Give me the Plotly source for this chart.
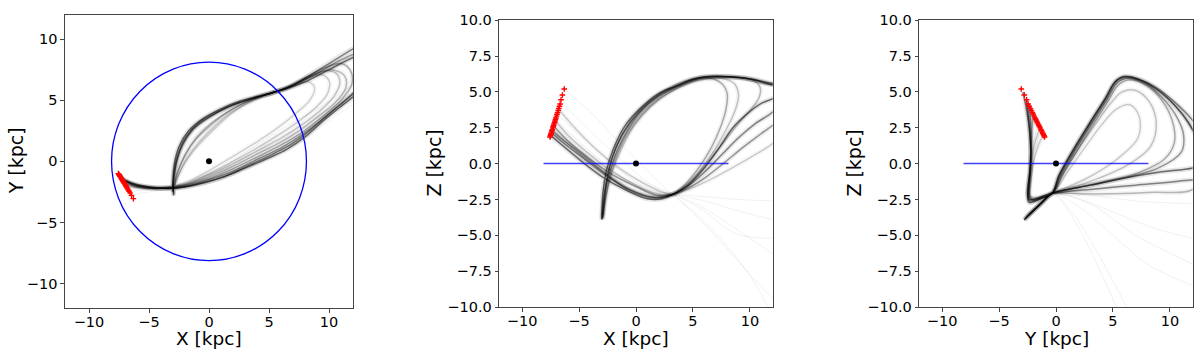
import plotly.graph_objects as go

# stream stars (red crosses), kpc
STAR_X = [-7.55, -7.52, -7.48, -7.45, -7.41, -7.38, -7.34, -7.30, -7.27, -7.23, -7.19, -7.15,
          -7.11, -7.07, -7.03, -6.98, -6.93, -6.88, -6.83, -6.78, -6.72, -6.66, -6.58, -6.46, -6.30]
STAR_Y = [-1.00, -1.05, -1.11, -1.16, -1.22, -1.27, -1.33, -1.40, -1.45, -1.51, -1.58, -1.64,
          -1.71, -1.77, -1.84, -1.92, -2.00, -2.08, -2.17, -2.25, -2.35, -2.45, -2.58, -2.78, -3.05]
STAR_Z = [1.85, 1.94, 2.03, 2.12, 2.21, 2.30, 2.39, 2.49, 2.58, 2.67, 2.77, 2.87,
          2.97, 3.08, 3.18, 3.31, 3.44, 3.57, 3.71, 3.84, 4.00, 4.15, 4.45, 4.78, 5.20]

R_SUN = 8.12
DISK_X = [-8.12, 8.12]
DISK_Z = [0.0, 0.0]

# ---- X-Y projection (darkest orbit first) ----
XY_CORE_X = [
    [-7.4, -6.5, -5.0, -3.0, -1.0, 1.0, 3.0, 5.0, 6.5, 8.0, 9.5, 11.0, 12.3, 13.5, 14.3, 14.0, 12.0, 10.0, 8.0, 6.5, 5.4, 4.0, 2.5, 1.0, -0.5, -1.7, -2.5, -2.9, -3.0, -2.95],
    [-7.35, -6.2, -4.5, -2.5, -0.5, 1.5, 3.5, 5.5, 7.0, 8.5, 10.0, 11.5, 12.8, 14.0, 14.8, 14.0, 12.0, 10.0, 8.0, 6.5, 5.4, 4.0, 2.2, 0.6, -0.8, -1.9, -2.6, -2.95, -3.0],
    [-7.3, -6.0, -4.0, -2.0, 0.0, 2.0, 4.0, 6.0, 7.5, 9.0, 10.5, 12.0, 13.3, 13.8, 13.0, 11.0, 9.0, 7.0, 5.4, 3.5, 1.5, 0.0, -1.3, -2.2, -2.7, -2.9, -3.0, -2.9],
    [-7.3, -6.0, -4.0, -2.0, 0.0, 2.0, 4.0, 6.0, 7.8, 9.5, 11.0, 11.9, 11.8, 11.0, 9.5, 7.8, 6.3, 5.4, 3.5, 1.5, 0.0, -1.3, -2.2, -2.7, -2.95, -3.0],
    [-7.2, -6.0, -4.0, -2.0, 0.0, 2.0, 4.0, 6.0, 7.5, 9.0, 10.5, 11.4, 11.3, 10.2, 8.6, 7.0, 5.4, 4.0, 2.0, 0.3, -1.0, -1.9, -2.5, -2.9, -3.0],
    [-7.15, -6.0, -4.0, -2.0, 0.0, 2.0, 4.0, 6.0, 7.6, 9.2, 10.4, 10.9, 10.6, 9.6, 8.2, 6.7, 5.4, 3.8, 1.8, 0.2, -1.1, -2.0, -2.6, -2.95],
    [-7.1, -6.0, -4.0, -2.0, 0.0, 2.0, 4.0, 6.0, 7.5, 9.0, 9.9, 10.0, 9.3, 8.0, 6.5, 5.4, 4.0, 2.0, 0.5, -0.8, -1.8, -2.5, -2.9, -2.95],
    [-7.0, -6.0, -4.0, -2.0, 0.0, 2.0, 4.0, 5.8, 7.2, 8.4, 8.8, 8.3, 7.0, 5.4, 3.8, 2.0, 0.5, -1.0, -2.0, -2.6, -2.95],
]
XY_CORE_Y = [
    [-1.3, -1.75, -2.1, -2.2, -1.9, -1.35, -0.55, 0.3, 1.0, 2.0, 3.3, 4.5, 5.5, 6.6, 8.0, 9.3, 8.5, 7.5, 6.5, 5.95, 5.65, 5.3, 4.9, 4.3, 3.5, 2.5, 1.2, -0.3, -1.8, -2.8],
    [-1.4, -1.9, -2.15, -2.15, -1.75, -1.15, -0.25, 0.7, 1.5, 2.6, 3.9, 5.1, 6.2, 7.3, 9.0, 10.3, 9.2, 8.0, 6.8, 6.05, 5.65, 5.25, 4.7, 4.0, 3.2, 2.0, 0.5, -1.2, -2.5],
    [-1.5, -2.0, -2.2, -2.05, -1.5, -0.8, 0.15, 1.1, 2.0, 3.1, 4.3, 5.6, 7.0, 8.3, 9.0, 8.3, 7.2, 6.2, 5.65, 5.1, 4.4, 3.6, 2.7, 1.4, 0.0, -1.3, -2.2, -2.7],
    [-1.45, -2.0, -2.2, -2.0, -1.4, -0.6, 0.35, 1.35, 2.4, 3.7, 5.0, 6.3, 7.4, 8.0, 7.6, 6.7, 5.9, 5.65, 5.1, 4.4, 3.6, 2.6, 1.3, -0.1, -1.5, -2.4],
    [-1.6, -2.05, -2.2, -1.95, -1.25, -0.4, 0.6, 1.6, 2.5, 3.6, 4.8, 6.0, 7.0, 7.5, 7.0, 6.2, 5.65, 5.2, 4.3, 3.2, 2.0, 0.7, -0.6, -1.8, -2.4],
    [-1.7, -2.1, -2.2, -1.9, -1.1, -0.2, 0.85, 1.9, 2.9, 4.1, 5.3, 6.4, 7.2, 7.4, 6.9, 6.1, 5.65, 5.15, 4.2, 3.0, 1.8, 0.5, -0.8, -2.3],
    [-1.8, -2.1, -2.2, -1.85, -1.0, 0.0, 1.1, 2.3, 3.3, 4.5, 5.6, 6.6, 7.1, 6.7, 6.0, 5.65, 5.1, 4.1, 2.9, 1.6, 0.3, -1.0, -2.1, -2.6],
    [-2.0, -2.15, -2.2, -1.75, -0.75, 0.4, 1.6, 2.8, 3.9, 5.0, 6.0, 6.5, 6.2, 5.65, 5.1, 4.0, 2.7, 1.2, -0.1, -1.3, -2.3],
]
XY_FAINT_X = [
    [-6.5, -5.0, -3.0, -1.0, 1.0, 3.0, 5.0, 7.0, 9.0, 11.0, 12.5, 14.0, 15.0, 14.5, 12.0, 10.0, 8.0, 6.5, 5.4, 3.5, 1.5, -0.2, -1.5, -2.4, -2.85, -3.0],
    [-6.8, -5.0, -3.0, -1.0, 1.0, 3.0, 5.0, 7.0, 9.0, 11.0, 12.5, 13.5, 14.0, 13.0, 11.0, 9.0, 7.0, 5.4, 3.5, 1.5, -0.2, -1.5, -2.4, -2.85, -3.0],
]
XY_FAINT_Y = [
    [-2.8, -2.5, -2.25, -2.0, -1.5, -0.7, 0.2, 1.2, 2.6, 4.0, 5.0, 6.0, 8.0, 11.0, 9.4, 8.3, 7.0, 6.1, 5.65, 5.2, 4.5, 3.7, 2.7, 1.3, -0.3, -2.2],
    [-2.5, -2.3, -2.15, -1.6, -0.6, 0.7, 2.0, 3.2, 4.3, 5.6, 6.6, 7.5, 8.5, 9.0, 8.2, 7.1, 6.3, 5.65, 5.0, 4.0, 2.9, 1.8, 0.6, -0.8, -2.3],
]

# ---- X-Z projection ----
XZ_CORE_X = [
    [-7.4, -6.5, -5.0, -3.0, -1.0, 1.0, 2.3, 3.2, 4.5, 6.0, 7.3, 8.5, 9.8, 11.0, 12.2, 13.2, 13.3, 12.0, 10.5, 8.5, 6.5, 5.0, 3.5, 2.0, 0.3, -1.0, -2.0, -2.6, -2.9, -3.0],
    [-7.35, -6.3, -4.5, -2.5, -0.5, 1.5, 3.2, 4.5, 6.0, 7.5, 9.0, 10.5, 12.0, 13.4, 13.5, 12.0, 10.0, 8.0, 6.0, 4.0, 2.0, 0.2, -1.1, -2.0, -2.6, -2.95],
    [-7.2, -6.0, -4.0, -2.0, 0.0, 1.8, 3.2, 4.6, 6.2, 7.8, 9.5, 11.0, 12.5, 13.6, 13.5, 12.0, 10.0, 8.0, 6.0, 4.0, 2.0, 0.2, -1.2, -2.1, -2.6, -2.9],
    [-7.3, -6.3, -4.5, -2.5, -0.5, 1.5, 3.2, 4.3, 5.5, 6.6, 7.4, 7.9, 8.0, 7.5, 6.5, 5.0, 3.5, 2.0, 0.6, -0.6, -1.6, -2.3, -2.8, -3.0],
    [-7.3, -6.2, -4.5, -2.5, -0.5, 1.5, 3.2, 4.5, 6.0, 7.5, 8.9, 10.1, 10.8, 10.9, 10.3, 9.0, 7.5, 5.5, 3.8, 2.0, 0.5, -0.8, -1.7, -2.3, -2.7, -2.9],
    [-7.1, -6.0, -4.0, -2.0, 0.0, 1.8, 3.2, 4.4, 5.8, 7.0, 8.0, 8.7, 9.0, 8.6, 7.5, 6.0, 4.5, 2.8, 1.2, -0.2, -1.3, -2.1, -2.6, -2.9],
    [-6.8, -5.5, -3.5, -1.5, 0.5, 2.2, 3.2, 4.6, 6.3, 8.2, 10.2, 12.0, 13.5, 14.0, 13.0, 11.0, 9.0, 7.0, 5.0, 3.2, 1.5, 0.0, -1.2, -2.1, -2.6, -2.95],
]
XZ_CORE_Z = [
    [1.9, 1.3, 0.3, -0.9, -1.8, -2.45, -2.45, -2.15, -1.55, -0.3, 1.1, 2.5, 3.5, 4.2, 4.6, 5.2, 5.7, 5.6, 5.85, 6.05, 6.08, 5.9, 5.4, 4.9, 3.8, 2.6, 1.0, -0.5, -2.0, -3.9],
    [2.1, 1.4, 0.3, -0.9, -1.85, -2.35, -2.15, -1.6, -0.6, 0.6, 1.8, 2.8, 3.6, 4.8, 5.5, 5.5, 5.9, 6.05, 6.05, 5.55, 4.8, 3.6, 2.2, 0.6, -1.2, -3.8],
    [2.6, 1.6, 0.3, -0.8, -1.6, -2.2, -2.15, -1.7, -0.9, 0.1, 1.2, 2.1, 3.0, 4.2, 5.3, 5.5, 5.9, 6.05, 6.0, 5.5, 4.7, 3.5, 2.0, 0.4, -1.4, -3.6],
    [2.3, 1.6, 0.5, -0.8, -1.9, -2.4, -2.15, -1.45, -0.3, 1.1, 2.5, 3.8, 4.9, 5.6, 5.95, 5.9, 5.5, 4.8, 3.8, 2.5, 1.0, -0.6, -2.2, -3.9],
    [2.2, 1.5, 0.4, -0.8, -1.8, -2.35, -2.15, -1.5, -0.2, 1.3, 2.7, 3.8, 4.6, 5.3, 5.8, 6.0, 6.0, 5.8, 5.3, 4.5, 3.4, 2.0, 0.5, -1.0, -2.5, -3.8],
    [3.0, 2.0, 0.6, -0.6, -1.5, -2.1, -2.15, -1.5, -0.3, 1.1, 2.5, 3.7, 4.8, 5.6, 5.95, 5.95, 5.6, 4.9, 3.9, 2.6, 1.0, -0.6, -2.2, -3.7],
    [3.8, 2.6, 1.0, -0.3, -1.3, -1.95, -2.15, -1.8, -1.2, -0.4, 0.5, 1.4, 2.5, 4.0, 5.2, 5.6, 5.95, 6.08, 5.85, 5.2, 4.3, 3.1, 1.6, -0.1, -1.8, -3.9],
]
XZ_FAINT_X = [
    [-6.3, -4.0, -1.5, 1.0, 3.2, 5.0, 7.5, 10.0, 11.6],
    [-7.0, -4.5, -1.5, 1.0, 3.2, 5.5, 8.5, 12.0],
    [-7.2, -4.5, -1.5, 1.2, 3.2, 6.0, 9.0, 12.0],
    [-7.4, -5.0, -2.0, 1.0, 3.2, 6.0, 9.0, 12.0],
    [-6.6, -4.2, -1.2, 1.4, 3.2, 5.2, 7.6, 10.2, 12.0],
    [-6.9, -4.4, -1.4, 1.2, 3.2, 5.8, 8.8, 12.0],
]
XZ_FAINT_Z = [
    [5.2, 3.6, 1.5, -0.5, -2.15, -3.3, -5.3, -7.8, -10.0],
    [3.0, 1.2, -0.8, -1.9, -2.15, -2.9, -4.4, -6.3],
    [2.3, 0.6, -1.3, -2.2, -2.15, -2.6, -3.3, -3.9],
    [1.9, 0.4, -1.1, -2.2, -2.15, -2.3, -2.5, -2.6],
    [4.3, 2.4, 0.2, -1.5, -2.15, -3.6, -5.6, -7.9, -9.4],
    [3.4, 1.6, -0.5, -1.8, -2.15, -3.2, -4.9, -5.2],
]

# ---- Y-Z projection ----
YZ_CORE_Y = [
    [-2.6, -2.4, -2.25, -2.2, -2.35, -2.4, -1.8, -0.9, -0.3, 0.3, 1.8, 3.2, 4.4, 5.3, 6.2, 7.5, 9.0, 10.5, 11.6, 12.5, 13.0, 12.0, 9.0, 6.0, 3.0, 0.5, -0.4, -1.5, -2.8],
    [-2.9, -2.6, -2.3, -2.2, -2.3, -2.5, -2.3, -1.2, -0.3, 0.2, 1.6, 3.0, 4.2, 5.1, 5.9, 7.2, 8.8, 10.4, 12.0, 13.5, 13.5, 11.0, 7.0, 3.0, 0.5, -0.4, -1.6, -2.8],
    [-2.3, -2.2, -2.2, -2.3, -2.45, -2.0, -1.0, -0.3, 0.4, 1.9, 3.3, 4.5, 5.4, 6.3, 7.8, 9.2, 10.5, 11.2, 11.0, 9.0, 6.0, 3.0, 0.5, -0.3, -1.4, -2.7],
    [-2.0, -2.1, -2.2, -2.3, -2.45, -2.4, -1.6, -0.3, 0.5, 2.0, 3.4, 4.6, 5.5, 6.5, 8.0, 9.3, 10.2, 10.4, 9.5, 7.0, 4.0, 1.0, -0.3, -1.4, -2.6],
    [-2.45, -2.3, -2.2, -2.25, -2.4, -2.2, -1.4, -0.3, 0.35, 1.85, 3.25, 4.45, 5.35, 6.25, 7.6, 9.1, 10.6, 11.8, 12.8, 13.0, 12.0, 8.5, 5.0, 2.0, 0.2, -0.4, -1.5, -2.75],
    [-1.4, -1.8, -2.1, -2.25, -2.3, -2.0, -0.3, 0.7, 2.2, 3.6, 4.8, 5.8, 7.0, 8.2, 8.8, 8.3, 6.5, 3.5, 0.8, -0.3, -1.3, -2.5],
    [-1.1, -1.6, -2.0, -2.2, -2.2, -1.2, -0.3, 1.0, 2.6, 4.0, 5.3, 6.5, 7.3, 7.2, 5.5, 3.0, 0.5, -0.3, -1.2, -2.3],
]
YZ_CORE_Z = [
    [4.5, 3.0, 1.5, 0.0, -1.5, -2.5, -2.45, -2.2, -2.0, -0.8, 1.3, 3.1, 4.6, 5.8, 6.05, 5.8, 5.1, 4.0, 2.9, 1.5, 0.0, -0.3, -0.6, -1.0, -1.5, -1.9, -2.1, -2.9, -3.9],
    [5.0, 3.8, 2.2, 0.8, -0.7, -2.1, -2.7, -2.4, -2.05, -0.9, 1.1, 2.9, 4.4, 5.6, 6.07, 5.9, 5.3, 4.3, 3.0, 1.0, -0.8, -1.2, -1.5, -1.8, -2.0, -2.1, -3.0, -3.95],
    [4.0, 2.5, 1.0, -0.5, -2.2, -2.55, -2.3, -2.05, -0.85, 1.2, 3.0, 4.5, 5.65, 5.95, 5.6, 4.7, 3.4, 2.0, 0.8, -0.3, -1.0, -1.5, -1.9, -2.05, -2.85, -3.8],
    [3.5, 2.5, 1.0, -0.5, -2.0, -2.7, -2.5, -2.05, -0.9, 1.1, 2.9, 4.4, 5.5, 5.85, 5.4, 4.4, 3.0, 1.5, 0.3, -0.7, -1.3, -1.8, -2.05, -2.8, -3.7],
    [4.2, 2.7, 1.2, -0.3, -1.8, -2.6, -2.4, -2.05, -0.82, 1.25, 3.05, 4.55, 5.75, 6.0, 5.7, 5.0, 3.9, 2.6, 1.0, -0.5, -1.8, -2.0, -2.1, -2.1, -2.05, -2.1, -2.9, -3.9],
    [2.5, 1.6, 0.5, -0.8, -2.2, -2.5, -2.05, -0.6, 1.3, 2.9, 4.2, 5.0, 5.1, 4.3, 2.8, 1.2, 0.0, -1.1, -1.8, -2.05, -2.8, -3.6],
    [2.0, 1.2, 0.0, -1.3, -2.3, -2.3, -2.05, -0.6, 1.2, 2.7, 3.8, 4.1, 3.3, 1.8, 0.4, -0.9, -1.8, -2.05, -2.7, -3.5],
]
YZ_FAINT_Y = [
    [-1.3, -2.0, -2.3, -2.2, -1.2, -0.3, 1.5, 3.5, 5.0, 6.2],
    [-1.6, -2.1, -2.3, -2.2, -1.2, -0.3, 2.0, 5.0, 8.0, 12.0],
    [-1.9, -2.15, -2.35, -2.2, -1.2, -0.3, 2.5, 6.0, 9.0, 12.0],
    [-2.3, -2.2, -2.35, -2.2, -1.2, -0.3, 3.0, 7.0, 12.0],
    [-1.0, -1.8, -2.2, -2.2, -1.2, -0.3, 2.0, 4.0, 5.3],
    [-2.5, -2.2, -2.3, -2.2, -1.2, -0.3, 3.0, 7.0, 12.0],
]
YZ_FAINT_Z = [
    [2.3, 0.5, -1.5, -2.4, -2.3, -2.05, -3.5, -6.0, -8.2, -10.0],
    [2.8, 0.8, -1.4, -2.4, -2.3, -2.05, -3.0, -5.0, -7.0, -8.5],
    [3.3, 1.0, -1.5, -2.5, -2.3, -2.05, -2.6, -3.7, -4.6, -5.2],
    [3.9, 1.2, -1.5, -2.5, -2.3, -2.05, -2.2, -2.6, -2.8],
    [1.9, 0.6, -1.2, -2.4, -2.3, -2.05, -4.5, -7.7, -10.0],
    [4.2, 1.0, -1.6, -2.5, -2.3, -2.05, -2.8, -5.0, -7.0],
]

FONT = "DejaVu Sans"
# darkest orbit first, the rest progressively lighter
CORE_ALPHA = [0.55, 0.45, 0.38, 0.3, 0.25, 0.21, 0.18, 0.16]
FAINT = "rgba(0,0,0,0.06)"

fig = go.Figure()


def add_orbits(xs, ys, xa, ya, core=True):
    for i, (px, py) in enumerate(zip(xs, ys)):
        if core:
            a = CORE_ALPHA[i]
            fig.add_trace(go.Scatter(x=px, y=py, mode="lines", xaxis=xa, yaxis=ya,
                                     line=dict(color="rgba(0,0,0,%.3f)" % (a * 0.18), width=5, shape="spline"),
                                     hoverinfo="skip", showlegend=False))
            color, width = "rgba(0,0,0,%.3f)" % a, 1.5
        else:
            color, width = FAINT, 1.0
        fig.add_trace(go.Scatter(x=px, y=py, mode="lines", xaxis=xa, yaxis=ya,
                                 line=dict(color=color, width=width, shape="spline"),
                                 hoverinfo="skip", showlegend=False))


def add_markers(sx, sy, xa, ya):
    fig.add_trace(go.Scatter(x=sx, y=sy, mode="markers", xaxis=xa, yaxis=ya,
                             marker=dict(symbol="cross-thin", size=4, color="red",
                                         line=dict(color="red", width=1.4)),
                             showlegend=False))
    fig.add_trace(go.Scatter(x=[0], y=[0], mode="markers", xaxis=xa, yaxis=ya,
                             marker=dict(size=6, color="black"), showlegend=False))


# panel 1: X-Y
add_orbits(XY_FAINT_X, XY_FAINT_Y, "x", "y", core=False)
add_orbits(XY_CORE_X, XY_CORE_Y, "x", "y")
fig.add_shape(type="circle", xref="x", yref="y", x0=-R_SUN, y0=-R_SUN, x1=R_SUN, y1=R_SUN,
              line=dict(color="blue", width=1.3))
add_markers(STAR_X, STAR_Y, "x", "y")

# panel 2: X-Z
add_orbits(XZ_FAINT_X, XZ_FAINT_Z, "x2", "y2", core=False)
add_orbits(XZ_CORE_X, XZ_CORE_Z, "x2", "y2")
fig.add_trace(go.Scatter(x=DISK_X, y=DISK_Z, mode="lines", xaxis="x2", yaxis="y2",
                         line=dict(color="rgba(0,0,255,0.75)", width=1.5), showlegend=False))
add_markers(STAR_X, STAR_Z, "x2", "y2")

# panel 3: Y-Z
add_orbits(YZ_FAINT_Y, YZ_FAINT_Z, "x3", "y3", core=False)
add_orbits(YZ_CORE_Y, YZ_CORE_Z, "x3", "y3")
fig.add_trace(go.Scatter(x=DISK_X, y=DISK_Z, mode="lines", xaxis="x3", yaxis="y3",
                         line=dict(color="rgba(0,0,255,0.75)", width=1.5), showlegend=False))
add_markers(STAR_Y, STAR_Z, "x3", "y3")

axis_common = dict(showline=True, mirror=True, linecolor="#444", linewidth=1.3,
                   ticks="outside", ticklen=3.5, tickcolor="#444", showgrid=False,
                   zeroline=False, tickfont=dict(size=14.5, color="black", family=FONT))

W = 1200.0
H = 360.0
xdom = [(65, 353), (499.3, 772.7), (919.3, 1192.7)]
ydom = [(7, 314), (12.7, 313), (12.7, 313)]


def fx(px):
    return px / W


def fy(py):
    return 1 - py / H


layout = dict(width=int(W), height=int(H), margin=dict(l=0, r=0, t=0, b=0),
              paper_bgcolor="white", plot_bgcolor="white",
              font=dict(family=FONT, color="black"))
for i in range(3):
    sfx = "" if i == 0 else str(i + 1)
    xa = dict(axis_common, domain=[fx(xdom[i][0]), fx(xdom[i][1])], range=[-12, 12],
              tickvals=[-10, -5, 0, 5, 10], anchor="y" + sfx, ticklabelstandoff=-3)
    if i == 0:
        ya = dict(axis_common, domain=[fy(ydom[i][1]), fy(ydom[i][0])], range=[-12, 12],
                  tickvals=[-10, -5, 0, 5, 10], anchor="x" + sfx)
    else:
        ya = dict(axis_common, domain=[fy(ydom[i][1]), fy(ydom[i][0])], range=[-10, 10],
                  dtick=2.5, tick0=0, tickformat=".1f", anchor="x" + sfx)
    layout["xaxis" + sfx] = xa
    layout["yaxis" + sfx] = ya
fig.update_layout(**layout)

titles = [("X [kpc]", "Y [kpc]", 16), ("X [kpc]", "Z [kpc]", 434), ("Y [kpc]", "Z [kpc]", 854)]
for i, (xt, yt, ypos) in enumerate(titles):
    cx = (xdom[i][0] + xdom[i][1]) / 2
    cy = (ydom[i][0] + ydom[i][1]) / 2
    fig.add_annotation(text=xt, x=fx(cx), y=fy(346), xref="paper", yref="paper",
                       showarrow=False, font=dict(size=18.5, family=FONT), xanchor="center",
                       yanchor="middle", borderpad=0)
    fig.add_annotation(text=yt, x=fx(ypos), y=fy(cy), xref="paper", yref="paper",
                       showarrow=False, textangle=-90, font=dict(size=19, family=FONT),
                       xanchor="center", yanchor="middle")

# drop the default 8px page margin so the figure sits at the window origin
fig.write_html("out.html", config={"displayModeBar": False},
               post_script="document.body.style.margin='0';")
